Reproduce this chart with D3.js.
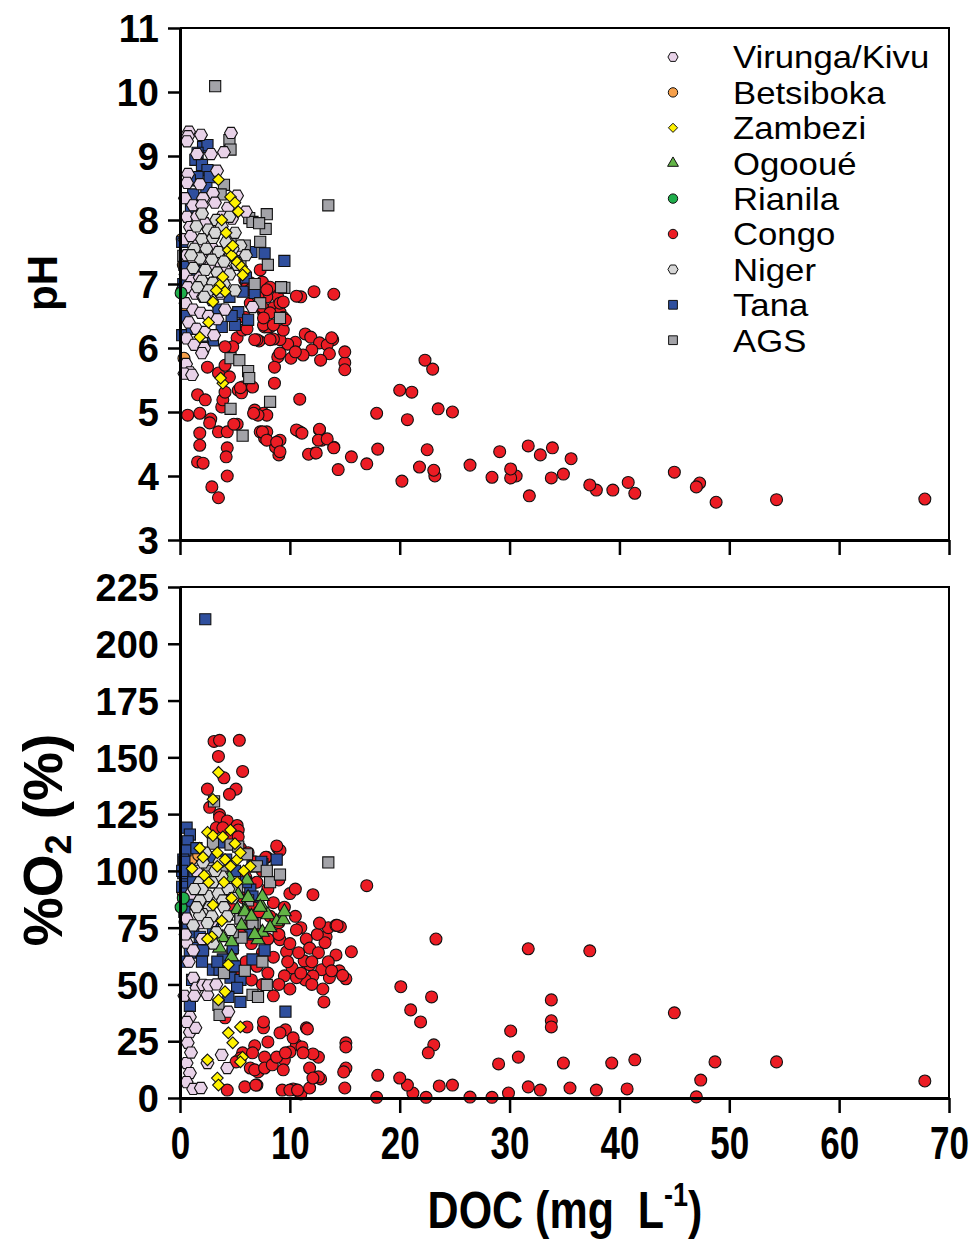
<!DOCTYPE html>
<html><head><meta charset="utf-8">
<script src="https://cdn.jsdelivr.net/npm/d3@7"></script>
<style>body{margin:0;background:#fff}svg{display:block}</style>
</head><body>
<svg id="c" width="976" height="1240"></svg>
<script>
// ---------- categories / styles ----------
const seriesNames = ["Virunga/Kivu","Betsiboka","Zambezi","Ogooué","Rianila","Congo","Niger","Tana","AGS"];
const seriesFill  = ["#e8d2e8","#f7a04a","#fff200","#62b446","#1fae4b","#ec1c24","#d6d6d6","#2f4f9e","#a3a3a8"];
const seriesShape = ["hexagon","circle","diamond","triangle","circle","circle","hexagon","square","square"];
const drawOrder   = ["Betsiboka","Congo","Tana","AGS","Ogooué","Virunga/Kivu","Niger","Zambezi","Rianila"];

const xTicks  = [0,10,20,30,40,50,60,70];
const phTicks = [3,4,5,6,7,8,9,10,11];
const o2Ticks = [0,25,50,75,100,125,150,175,200,225];

// ---------- pH panel data [DOC, pH] ----------
const phCongo = [[67.8,3.64],[54.3,3.63],[48.8,3.59],[47.3,3.89],[47.0,3.83],[45.0,4.06],[41.4,3.73],[40.8,3.9],[39.4,3.78],[37.9,3.78],[37.3,3.86],[35.6,4.27],[34.9,4.03],[33.8,3.97],[33.9,4.44],[32.8,4.33],[31.8,3.69],[31.7,4.47],[30.6,4.0],[30.1,3.97],[30.1,4.11],[29.1,4.38],[28.4,3.98],[26.4,4.17],[23.5,5.05],[24.8,5.0],[23.0,5.67],[22.3,5.81],[23.2,4.0],[23.1,4.09],[22.5,4.41],[21.8,4.14],[21.1,5.31],[20.0,5.34],[20.7,4.88],[20.2,3.92],[18.0,4.42],[17.9,4.98],[17.0,4.19],[15.6,4.3],[15.0,5.77],[15.0,5.94],[15.0,5.66],[14.4,4.1],[14.0,4.45],[14.0,6.84],[13.9,6.13],[12.9,4.56],[12.7,4.72],[12.3,4.36],[12.2,6.88],[11.0,6.8],[10.6,6.81],[10.9,5.2],[10.9,4.69],[10.6,4.72],[11.7,4.34],
[11.4,6.22],[11.9,6.17],[12.7,6.08],[13.4,6.05],[13.8,6.16],[13.6,5.91],[12.8,5.81],[12.0,5.97],[11.2,5.89],[10.1,5.84],[10.5,6.09],[9.8,6.06],[9.1,6.13],[8.5,6.14],[8.9,5.86],[8.6,5.7],[9.4,6.28],[8.6,5.45],[7.2,6.11],[7.0,6.13],[7.7,6.33],[8.2,6.33],[6.8,5.03],[7.6,4.98],[7.9,4.95],[7.1,4.95],[11.1,4.67],[12.7,4.73],[12.6,4.56],[13.4,4.58],[14.0,4.44],[12.4,4.36],[9.1,4.56],[9.0,4.33],[8.7,4.45],[7.9,4.69],[7.7,4.59],[7.3,4.69],[5.7,5.39],[5.3,5.34],
[7.3,7.22],[7.5,7.03],[6.4,7.02],[8.2,6.95],[8.9,6.8],[7.9,6.8],[8.5,6.63],[9.1,6.56],[9.4,6.48],[7.6,6.56],[7.3,6.64],[6.4,6.7],[5.9,6.48],[8.0,6.33],[7.6,6.36],[5.2,6.16],[4.8,6.02],[5.7,6.28],[9.6,6.44],[9.1,6.7],
[1.6,5.27],[2.3,5.19],[0.7,4.95],[1.8,4.98],[2.8,4.89],[2.7,4.83],[3.8,5.08],[3.5,4.69],[4.3,4.69],[5.2,4.81],[4.3,4.44],[4.2,4.3],[1.8,4.67],[1.8,4.48],[1.6,4.22],[2.1,4.2],[2.9,3.83],[3.5,3.66],[4.3,4.0],[4.9,4.81],[5.6,5.3],[5.5,5.38],[3.9,5.19],[4.1,5.31],[4.5,5.55],[3.5,5.61],[2.5,5.7],[4.1,5.73],[6.6,5.39],[6.7,4.98],[7.5,4.69],[7.9,4.56],[8.8,4.53],[9.1,4.38],[4.1,6.02],[6.1,6.3],[6.8,6.13],[8.2,6.13],[10.5,5.94],[9.1,5.92],[5.9,7.06],[6.1,6.95],[6.4,6.91],[7.1,6.8],[7.5,6.64],[7.9,6.91],[8.2,6.55],[9.4,6.72],[8.5,6.36],[7.6,6.47]];
const phVirunga = [[0.82,9.38],[0.73,9.31],[0.64,9.23],[1.91,9.33],[4.64,9.36],[4.0,9.06],[1.55,9.03],[2.82,9.03],[3.37,8.77],[0.73,8.72],[0.64,8.58],[1.82,8.56],[3.0,8.42],[5.19,8.38],[0.45,8.34],[2.09,8.34],[1.18,8.23],[2.0,8.23],[3.18,8.27],[4.37,8.19],[6.0,8.13],[0.64,8.05],[1.55,8.05],[3.82,8.05],[2.27,7.95],[4.73,8.02],[0.91,7.89],[5.28,7.53],
[0.4,7.7],[1.0,7.75],[1.6,7.6],[2.4,7.7],[3.0,7.55],[0.6,7.45],[1.3,7.35],[2.0,7.4],[2.8,7.3],[3.6,7.35],[0.5,7.15],[1.1,7.05],[1.8,7.1],[2.5,7.0],[3.3,7.05],[4.2,7.2],[0.7,6.95],[1.4,6.85],[2.1,6.8],[2.9,6.75],[3.7,6.85],[0.5,6.7],[1.2,6.6],[1.9,6.55],[2.6,6.5],[3.4,6.45],[4.1,6.6],[0.8,6.4],[1.5,6.3],[2.3,6.25],[3.1,6.2],[0.6,6.15],[1.3,6.05],[2.2,6.0],[0.55,5.75],[0.9,5.62],[0.4,5.6],[1.1,5.58],[2.0,5.92],[6.6,6.64]];
const phNiger = [[2.0,8.1],[3.3,8.0],[4.5,8.05],[1.5,7.9],[2.6,7.85],[3.8,7.9],[5.0,7.8],[2.0,7.7],[3.0,7.72],[4.2,7.65],[5.5,7.6],[1.3,7.55],[2.4,7.55],[3.5,7.5],[4.6,7.45],[1.8,7.4],[2.9,7.38],[4.0,7.35],[5.2,7.3],[1.2,7.25],[2.3,7.22],[3.4,7.18],[4.5,7.15],[2.0,7.05],[3.0,7.02],[4.0,7.0],[1.6,6.95],[2.6,6.9],[3.6,6.88],[5.0,6.9],[2.2,6.8],[3.2,7.8],[4.8,7.55],[1.0,7.45],[6.0,7.45]];
const phTana = [[2.1,9.14],[2.5,9.17],[1.6,9.05],[1.4,8.94],[2.0,8.86],[2.5,8.78],[2.7,8.67],[1.6,8.67],[0.9,8.62],[0.2,7.66],[6.5,7.5],[7.7,7.48],[9.5,7.36],[5.7,7.5],[5.2,7.3],[5.7,6.88],[6.8,6.86],[5.3,6.56],[6.2,6.44],[5.0,6.36],[3.8,6.33],[3.0,6.12],[2.1,6.02],[0.2,6.2],[1.0,8.2],[1.8,8.3],[2.4,8.5],[1.2,8.4],[0.3,7.0],[0.5,6.5],[1.5,7.2],[2.8,7.8],[3.5,6.6],[4.5,6.8],[6.0,7.1],[4.7,6.5],[0.4,7.3],[1.1,6.3],[2.6,7.6]];
const phZambezi = [[3.5,8.63],[4.6,8.36],[5.0,8.27],[5.3,8.13],[4.4,7.53],[4.7,7.45],[5.2,7.34],[5.6,7.27],[5.9,7.2],[5.7,7.14],[3.9,7.11],[3.6,6.98],[4.1,6.88],[3.0,6.72],[1.8,6.17],[3.9,5.45],[3.7,5.53],[4.2,7.8],[3.8,8.0],[4.8,7.6],[2.6,6.4],[3.3,6.9]];
const phAGS = [[3.2,10.09],[4.5,9.25],[4.6,9.1],[13.5,8.23],[7.9,8.09],[6.3,8.03],[6.6,7.97],[7.8,7.86],[7.3,7.66],[4.6,7.7],[9.5,6.94],[5.9,7.6],[0.3,7.44],[4.6,5.84],[5.4,5.81],[6.2,5.64],[6.3,5.53],[8.2,5.16],[4.6,5.05],[5.7,4.63],[9.2,6.95],[7.3,6.7],[9.1,6.47],[6.8,7.0],[5.5,7.3],[8.0,7.3],[4.0,8.55],[3.7,8.4],[7.2,7.95]];
const phBetsiboka = [[0.36,5.84],[0.2,6.9],[0.3,7.3],[0.5,6.6],[0.2,7.7]];
const phRianila = [[0.1,6.86]];
const phOgooue = [];

// ---------- %O2 panel data [DOC, %O2] ----------
const o2Congo = [[67.8,7.5],[54.3,15.9],[48.7,15.9],[47.4,7.9],[47.0,0.5],[45.0,37.5],[41.4,16.8],[40.7,4.0],[39.3,15.4],[37.9,3.5],[37.3,64.8],[35.5,4.4],[34.9,15.4],[33.8,43.2],[33.8,34],[33.8,31.3],[32.8,3.5],[31.7,4.9],[31.7,65.7],[30.8,18],[30.1,29.5],[29.9,2.2],[29.0,15],[28.4,0.3],[26.4,0.4],[24.8,5.7],[23.6,5.3],[23.3,70],[23.1,23.4],[22.9,44.5],[22.6,19.9],[22.4,0.3],[21.9,33.5],[21.0,38.8],[21.2,2.2],[20.7,5.7],[20.0,8.8],[20.1,49],[18.0,10],[17.9,0.3],[17.0,93.5],[15.6,64.4],[15.1,24.3],[15.1,22.5],[15.1,13.2],[14.9,11.5],[15.0,4.4],[14.6,75.4],[15.1,52.5],[14.2,63],[13.6,53],[13.3,71],[13.2,68.4],[13.1,42.3],[12.9,56.5],[12.8,8.4],[12.6,18],[12.6,9.3],[12.1,89.5],[12.1,19.4],[12.1,53.8],[11.8,58.7],[11.5,30.9],[11.4,52],[11.3,60.4],[11.0,1.8],[10.6,23.4],[10.6,3.5],[10.6,53],[10.3,4.0],[10.2,57.3],[10.0,20.3],[9.6,30],[9.5,16.8],[9.5,53.8],[9.7,64.4],[9.1,69.7],[9.0,77.2],[8.9,110],[9.1,109],[8.2,15.4],[8.0,24.7],[7.7,18],[7.6,30.9],[7.1,11.5],[7.0,5.7],[6.8,23],[6.4,13.2],[5.9,4.9],[6.1,31.3],[5.7,19.9],[5.5,17.6],[4.3,3.5],[5.1,15.9],
[3.1,157],[3.6,157.5],[5.4,157.5],[3.5,150.4],[5.7,143.8],[4.0,141],[2.5,136],[5.1,136],[4.5,133.7],[2.7,128],[3.6,124.8],[7.9,106],[8.5,86],
[3.6,123.5],[4.3,122],[5.2,120],[5.3,118],[4.7,116],[5.3,115],[3.3,119],[3.9,119],[8.8,111],[7.8,106],
[4.1,35.3],[6.6,19.9],[6.9,5.7],[6.8,12.4],[7.7,13.2],[8.4,14.6],[8.8,18],[9.4,12.4],[9.6,19.9],[9.1,28.7],[10.3,26.5],[11.1,22.5],[11.6,30.4],[7.6,33.5],[11.2,19.9],[11.8,13.2],[9.3,3.5],[10.0,3.5],[10.7,3.5],[11.8,4.4],[12.1,8.8],
[5.5,110],[6.2,108],[6.8,104],[7.5,100],[6.0,97],[7.0,95],[8.0,92],[9.0,96],[10.0,90],[5.8,88],[6.5,85],[7.2,82],[8.2,80],[9.5,84],[10.5,80],[11.0,75],[6.0,78],[7.0,74],[8.0,70],[9.0,72],[10.0,68],[11.5,70],[12.5,72],[13.5,75],[14.2,76],[5.5,72],[6.5,68],[7.5,64],[8.5,62],[9.8,60],[10.8,64],[11.8,66],[12.6,64],[13.5,60],[14.5,56],[6.0,60],[7.0,58],[8.0,55],[9.0,50],[10.0,48],[11.0,55],[12.0,50],[13.0,48],[7.5,50],[8.5,45],[6.5,52],[5.5,55],[4.8,65],[4.5,85],[10.5,92],[12.0,60],[13.8,56],[14.8,54],[12.7,77],[14.3,76],[10.6,74]];
const o2Virunga = [[1.2,52.9],[1.5,48.5],[2.1,49.8],[2.5,45.4],[0.9,29],[1.4,30.9],[0.7,24.3],[0.6,15.4],[0.9,11],[0.6,7],[1.2,4],[1.9,4.4],[3.8,19],[2.5,15.4],[4.3,13.2],[2.6,49.6],[4.4,38],[0.6,68.4],[1.8,77],[2.9,77.6],[1.2,65],[0.6,79],[1.5,84],[0.9,35.7],[0.6,33.5],[0.8,60],[2.0,70],[1.0,90],[2.2,88],[3.0,95],[1.5,100],[0.5,72],[1.0,20],[3.3,50],[0.4,45],[1.3,45]];
const o2Niger = [[2.1,103.7],[2.7,97.5],[1.8,95],[3.0,95],[3.8,97.5],[2.5,89],[3.5,90],[1.8,87],[2.7,84],[3.9,87],[2.1,81],[2.9,80],[4.0,84],[4.3,80],[1.8,80.5],[2.5,77],[3.3,73],[2.0,92],[1.3,92],[3.2,100],[4.4,92],[1.5,84],[4.8,88],[2.3,108],[3.6,104],[1.2,76],[3.0,68],[4.6,74]];
const o2Tana = [[2.3,210.8],[0.6,119],[0.9,116],[0.7,113],[0.5,109],[0.3,105],[0.6,101],[0.6,97.5],[0.3,99],[0.2,93],[0.5,90],[0.8,86],[0.4,82],[0.7,75],[1.2,73],[1.8,71],[0.9,64],[1.5,66],[2.1,65],[3.0,56.5],[3.6,56.5],[4.3,56],[4.6,53],[5.5,52],[5.2,48.5],[4.4,44.5],[5.5,42.3],[0.9,40.6],[9.6,38],[6.6,61],[7.7,65],[3.9,61],[3.4,60],[3.6,112.5],[0.4,104],[0.2,100],[6.4,91.8],[6.6,88.7],[2.5,70],[1.2,95],[1.5,110],[2.9,106],[4.2,105],[5.0,100],[6.0,95],[7.5,103],[8.8,105],[5.5,80],[3.0,75],[6.5,72],[2.0,60],[4.8,66],[0.5,60],[1.1,52],[5.0,58],[6.6,102],[7.4,104]];
const o2Zambezi = [[3.5,143.4],[3.0,131.5],[2.5,117],[3.0,115.5],[4.6,118],[3.4,108],[4.1,105],[4.6,102],[5.2,105],[5.5,108],[3.4,102],[6.4,102],[1.1,101],[2.1,106],[5.2,95],[3.0,85],[4.1,46.8],[3.5,43.2],[5.5,31.3],[4.4,28.7],[4.8,24.3],[5.7,18],[5.5,15.9],[2.5,16.8],[3.4,8.8],[3.5,5.7],[2.9,71],[2.5,70],[4.4,58.7],[1.8,110],[2.6,95],[4.0,95],[5.8,100],[4.7,88],[3.8,78],[2.2,98],[5.0,112],[3.9,115]];
const o2Ogooue = [[5.2,83],[5.9,83],[7.5,84],[8.0,80.7],[8.8,77.6],[9.4,78.5],[3.9,70.6],[4.7,68.8],[7.1,69.7],[7.5,73],[4.7,62.2],[4.5,97],[6.1,96],[5.3,89.5],[7.5,88.7],[6.2,88.3],[5.9,82],[7.3,84],[6.5,80],[8.2,75],[9.5,82],[6.8,72],[5.6,76],[4.2,80],[3.6,66]];
const o2AGS = [[13.5,103.7],[3.1,130.6],[4.6,111.6],[5.3,110.7],[6.1,107.3],[7.0,102],[8.2,95],[9.1,98.4],[7.9,100],[6.8,77],[5.5,79],[5.6,70.6],[6.6,77],[7.9,49.8],[6.6,45.4],[3.5,41],[3.6,36.6],[5.9,56],[7.1,44.5],[4.5,90],[3.0,112],[2.6,100],[5.2,92],[6.2,87],[3.8,102],[7.5,60],[4.8,73],[4.0,55]];
const o2Betsiboka = [[1.4,110],[0.5,108],[0.4,98],[0.5,80],[0.45,77.6],[0.3,90],[1.0,105],[0.6,85],[1.7,107]];
const o2Rianila = [[0.1,84],[0.3,88]];

// table built from the named arrays
const phData = {"Virunga/Kivu":phVirunga,"Betsiboka":phBetsiboka,"Zambezi":phZambezi,"Ogooué":phOgooue,"Rianila":phRianila,"Congo":phCongo,"Niger":phNiger,"Tana":phTana,"AGS":phAGS};
const o2Data = {"Virunga/Kivu":o2Virunga,"Betsiboka":o2Betsiboka,"Zambezi":o2Zambezi,"Ogooué":o2Ogooue,"Rianila":o2Rianila,"Congo":o2Congo,"Niger":o2Niger,"Tana":o2Tana,"AGS":o2AGS};

// ---------- drawing ----------
const svg = d3.select("#c");
const FONT = "'Liberation Sans', Arial, Helvetica, sans-serif";
const L = 180, R = 949;
const x = d3.scaleLinear().domain([0,70]).range([L,R]);
const yPH = d3.scaleLinear().domain([3,11]).range([540,28]);
const yO2 = d3.scaleLinear().domain([0,225]).range([1098,587]);

// custom symbols
const hexagon = {draw(ctx, size){ const r = Math.sqrt(size/(1.5*Math.sqrt(3)));
  for(let i=0;i<6;i++){const a=Math.PI/3*i; const px=r*Math.cos(a), py=r*Math.sin(a); i?ctx.lineTo(px,py):ctx.moveTo(px,py);} ctx.closePath(); }};
const diamond = {draw(ctx,size){ const r=Math.sqrt(size/2); ctx.moveTo(0,-r);ctx.lineTo(r,0);ctx.lineTo(0,r);ctx.lineTo(-r,0);ctx.closePath(); }};
const shapeType = {hexagon:hexagon, circle:d3.symbolCircle, diamond:diamond, triangle:d3.symbolTriangle, square:d3.symbolSquare};
const shapeSize = {hexagon:108, circle:112, diamond:68, triangle:82, square:124};
function sym(name, scale){ const i = seriesNames.indexOf(name); const s = seriesShape[i];
  return d3.symbol().type(shapeType[s]).size(shapeSize[s]*(scale||1))(); }
function fillOf(name){ return seriesFill[seriesNames.indexOf(name)]; }

function panel(yScale, yTicks, data, showXLabels){
  const [y0,y1] = yScale.range();
  const g = svg.append("g");
  drawOrder.forEach(name=>{
    g.append("g").selectAll("path").data(data[name]).join("path")
      .attr("d", sym(name))
      .attr("transform", d=>`translate(${x(d[0])},${yScale(d[1])})`)
      .attr("fill", fillOf(name)).attr("stroke","#111").attr("stroke-width",1.1);
  });
  g.append("path").attr("d",`M${L},${y1}H${R}V${y0}`).attr("fill","none").attr("stroke","#000").attr("stroke-width",2);
  const ya = g.append("g").attr("transform",`translate(${L},0)`)
    .call(d3.axisLeft(yScale).tickValues(yTicks).tickSize(12).tickPadding(9).tickSizeOuter(0));
  ya.select(".domain").attr("stroke-width",3);
  ya.selectAll(".tick line").attr("stroke-width",2.5);
  ya.selectAll("text").attr("font-family",FONT).attr("font-weight","bold").attr("font-size",38).attr("fill","#000").attr("dy","0.36em");
  const xa = g.append("g").attr("transform",`translate(0,${y0})`)
    .call(d3.axisBottom(x).tickValues(xTicks).tickSize(15).tickSizeOuter(0).tickFormat(showXLabels? d3.format("d") : ""));
  xa.select(".domain").attr("stroke-width",3);
  xa.selectAll(".tick line").attr("stroke-width",2.5);
  xa.selectAll("text").attr("font-family",FONT).attr("font-weight","bold").attr("font-size",35).attr("fill","#000")
    .attr("y",null).attr("dy",null).attr("transform","translate(0,61) scale(1,1.3)");
}
panel(yPH, phTicks, phData, false);
panel(yO2, o2Ticks, o2Data, true);

// axis titles
svg.append("text").attr("transform","translate(57,283) rotate(-90)").attr("text-anchor","middle")
  .attr("font-family",FONT).attr("font-weight","bold").attr("font-size",42).text("pH");
const t2 = svg.append("text").attr("transform","translate(62,840) rotate(-90)").attr("text-anchor","middle")
  .attr("font-family",FONT).attr("font-weight","bold").attr("font-size",55);
t2.append("tspan").text("%O");
t2.append("tspan").attr("font-size",36).attr("dy",9).text("2");
t2.append("tspan").attr("dy",-9).text(" (%)");
const t3 = svg.append("text").attr("transform","translate(565,1228) scale(1,1.2)").attr("text-anchor","middle")
  .attr("font-family",FONT).attr("font-weight","bold").attr("font-size",43);
t3.append("tspan").text("DOC (mg\u00a0\u00a0L");
t3.append("tspan").attr("font-size",27).attr("dy",-18).text("-1");
t3.append("tspan").attr("dy",18).text(")");

// legend
const leg = svg.append("g");
seriesNames.forEach((name,i)=>{
  const cy = 57 + i*35.4;
  leg.append("path").attr("d", sym(name,0.62)).attr("transform",`translate(673,${cy})`)
    .attr("fill",fillOf(name)).attr("stroke","#111").attr("stroke-width",1);
  leg.append("text").attr("x",733).attr("y",cy+11.5).attr("font-family",FONT).attr("font-size",31)
    .attr("textLength", null).attr("transform",`translate(733,${cy}) scale(1.12,1) translate(-733,${-cy})`).text(name);
});
</script>
</body></html>
